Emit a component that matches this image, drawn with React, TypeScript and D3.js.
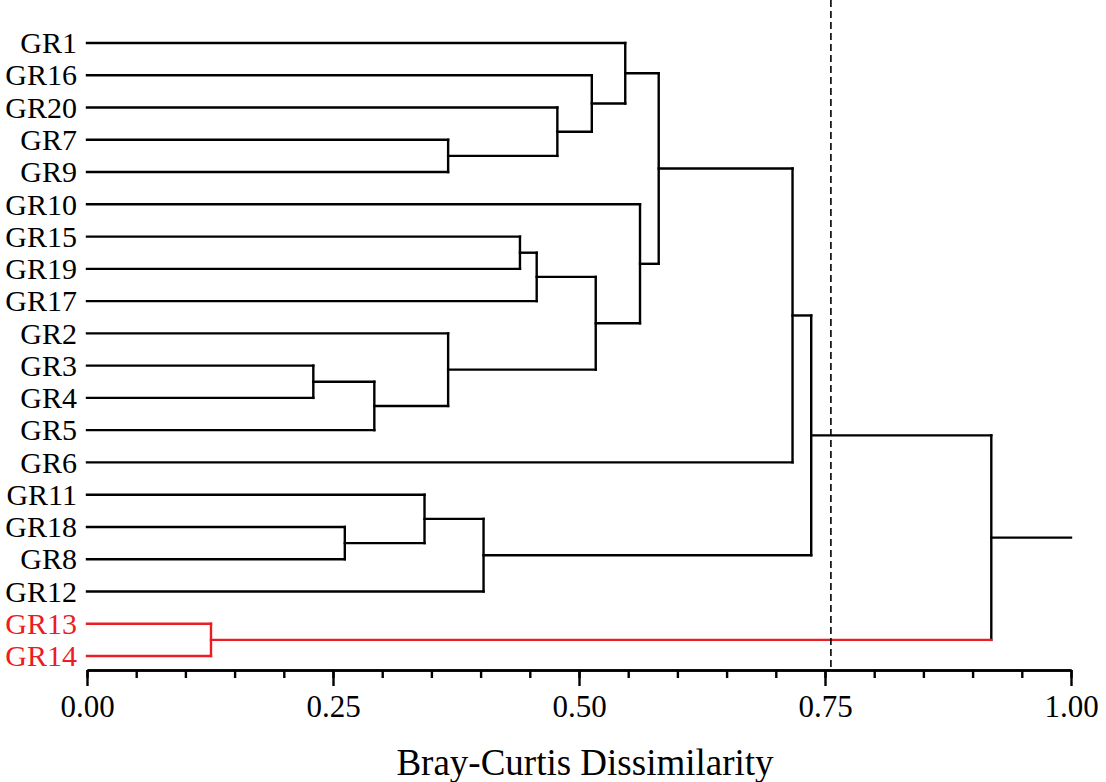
import { useRef, useEffect } from "react";
import * as d3 from "d3";

const WIDTH = 1106;
const HEIGHT = 782;

// leaf order, top to bottom
const leaves = [
  "GR1", "GR16", "GR20", "GR7", "GR9", "GR10", "GR15", "GR19", "GR17", "GR2",
  "GR3", "GR4", "GR5", "GR6", "GR11", "GR18", "GR8", "GR12", "GR13", "GR14",
];

// merges: [child a, child b, dissimilarity]; merge i is referred to as "m{i}"
const merges: [string, string, number][] = [
  ["GR7", "GR9", 0.367],   // m0
  ["GR20", "m0", 0.478],   // m1
  ["GR16", "m1", 0.513],   // m2
  ["GR1", "m2", 0.547],    // m3
  ["GR15", "GR19", 0.44],  // m4
  ["m4", "GR17", 0.457],   // m5
  ["GR3", "GR4", 0.23],    // m6
  ["m6", "GR5", 0.292],    // m7
  ["GR2", "m7", 0.367],    // m8
  ["m5", "m8", 0.517],     // m9
  ["GR10", "m9", 0.562],   // m10
  ["m3", "m10", 0.581],    // m11
  ["m11", "GR6", 0.717],   // m12
  ["GR18", "GR8", 0.262],  // m13
  ["GR11", "m13", 0.343],  // m14
  ["m14", "GR12", 0.403],  // m15
  ["m12", "m15", 0.736],   // m16
  ["GR13", "GR14", 0.126], // m17
  ["m16", "m17", 0.919],   // m18
];

const redLeaves = ["GR13", "GR14"];
const redMerges = ["m17"];
const cutOff = 0.756;
const majorTicks = [0, 0.25, 0.5, 0.75, 1];
const minorTicks = d3.range(0, 21).map((i) => i / 20);

const BLACK = "#000000";
const RED = "#ec1c24";
const FONT = "'Liberation Serif', 'Times New Roman', serif";

interface Node {
  id: string;
  height: number;
  y: number;
  children?: Node[];
}

export default function App() {
  const svgRef = useRef<SVGSVGElement>(null);

  useEffect(() => {
    document.body.style.margin = "0";
    if (!svgRef.current) return;
    const svg = d3.select(svgRef.current);
    svg.selectAll("*").remove();

    const x = d3.scaleLinear().domain([0, 1]).range([87, 1071]);
    const y = d3.scalePoint<string>().domain(leaves).range([43, 656]);
    const axisY = 670;

    // build nodes
    const nodes = new Map<string, Node>();
    leaves.forEach((l) => nodes.set(l, { id: l, height: 0, y: y(l)! }));
    merges.forEach(([a, b, h], i) => {
      const ca = nodes.get(a)!;
      const cb = nodes.get(b)!;
      nodes.set(`m${i}`, { id: `m${i}`, height: h, y: (ca.y + cb.y) / 2, children: [ca, cb] });
    });
    const root = nodes.get(`m${merges.length - 1}`)!;
    const colorOf = (id: string) => (redLeaves.includes(id) || redMerges.includes(id) ? RED : BLACK);

    const g = svg.append("g").attr("fill", "none").attr("stroke-width", 2.4).attr("stroke-linecap", "square");

    merges.forEach((_, i) => {
      const n = nodes.get(`m${i}`)!;
      const [ca, cb] = n.children!;
      // vertical bar
      g.append("line")
        .attr("x1", x(n.height)).attr("x2", x(n.height))
        .attr("y1", ca.y).attr("y2", cb.y)
        .attr("stroke", colorOf(n.id));
      // horizontal links to children
      n.children!.forEach((c) => {
        g.append("line")
          .attr("x1", x(c.height)).attr("x2", x(n.height))
          .attr("y1", c.y).attr("y2", c.y)
          .attr("stroke", colorOf(c.id));
      });
    });

    // root stub
    g.append("line")
      .attr("x1", x(root.height)).attr("x2", x(1))
      .attr("y1", root.y).attr("y2", root.y)
      .attr("stroke", BLACK);

    // cut-off line
    svg.append("line")
      .attr("x1", x(cutOff)).attr("x2", x(cutOff))
      .attr("y1", 0).attr("y2", axisY)
      .attr("stroke", BLACK)
      .attr("stroke-width", 1.6)
      .attr("stroke-dasharray", "7,4");

    // leaf labels
    svg.append("g")
      .selectAll("text")
      .data(leaves)
      .join("text")
      .attr("x", 77)
      .attr("y", (d) => y(d)!)
      .attr("dy", "0.34em")
      .attr("text-anchor", "end")
      .attr("font-family", FONT)
      .attr("font-size", 30)
      .attr("fill", (d) => colorOf(d))
      .text((d) => d);

    // axis
    const minor = d3.axisBottom(x).tickValues(minorTicks).tickSize(8).tickSizeOuter(0).tickFormat(() => "");
    const major = d3.axisBottom(x).tickValues(majorTicks).tickSize(16).tickSizeOuter(0).tickPadding(9).tickFormat(d3.format(".2f"));
    const ga = svg.append("g").attr("transform", `translate(0,${axisY})`);
    ga.append("g").call(minor);
    const gm = ga.append("g").call(major);
    ga.selectAll("path, line").attr("stroke", BLACK).attr("stroke-width", 2.4);
    gm.selectAll("text").attr("font-family", FONT).attr("font-size", 31).attr("fill", BLACK);

    svg.append("text")
      .attr("x", 585)
      .attr("y", 775)
      .attr("text-anchor", "middle")
      .attr("font-family", FONT)
      .attr("font-size", 37)
      .attr("fill", BLACK)
      .text("Bray-Curtis Dissimilarity");
  }, []);

  return <svg ref={svgRef} width={WIDTH} height={HEIGHT} style={{ display: "block", background: "#fff" }} />;
}
